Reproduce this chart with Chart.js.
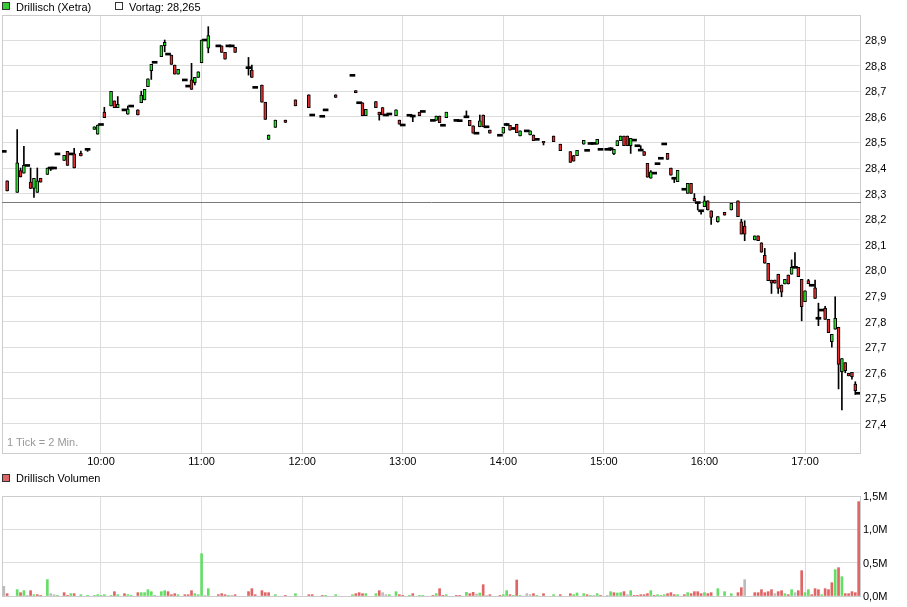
<!DOCTYPE html>
<html>
<head>
<meta charset="utf-8">
<script src="https://cdn.jsdelivr.net/npm/chart.js@4.4.1/dist/chart.umd.min.js"></script>
<style>
  body { margin: 0; background: #fff; font-family: "Liberation Sans", Arial, sans-serif; font-size: 11px; color: #000; }
  #wrap { position: relative; width: 907px; height: 607px; overflow: hidden; }
  canvas { position: absolute; left: 0; }
  .txt { position: absolute; white-space: nowrap; line-height: 11px; }
  .box { position: absolute; width: 6px; height: 6px; border: 1px solid #333; }
</style>
</head>
<body>
<div id="wrap">
  <canvas id="priceChart" width="907" height="470" style="top:0"></canvas>
  <canvas id="volumeChart" width="907" height="137" style="top:470px"></canvas>

  <div class="box" style="left:2px;top:2px;background:#33cc33"></div>
  <div class="txt" style="left:16px;top:2px">Drillisch (Xetra)</div>
  <div class="box" style="left:115px;top:2px;background:#fff"></div>
  <div class="txt" style="left:129px;top:2px">Vortag: 28,265</div>
  <div class="txt" style="left:7px;top:437px;color:#999">1 Tick = 2 Min.</div>
  <div class="box" style="left:2px;top:474px;background:#e06666"></div>
  <div class="txt" style="left:16px;top:473px">Drillisch Volumen</div>
</div>

<script>
// Drillisch (Xetra), 2-minute candles, one trading day
const times = [
  "09:02","09:04","09:10","09:12","09:14","09:16","09:18","09:20","09:22","09:24",
  "09:28","09:30","09:32","09:34","09:38","09:40","09:42","09:44","09:48","09:52",
  "09:56","09:58","10:00","10:02","10:06","10:08","10:10","10:14","10:16","10:18",
  "10:22","10:24","10:26","10:28","10:30","10:32","10:36","10:38","10:40","10:42",
  "10:44","10:46","10:50","10:52","10:54","10:56","10:58","11:00","11:02","11:04",
  "11:10","11:12","11:14","11:16","11:18","11:20","11:28","11:30","11:32","11:36",
  "11:38","11:40","11:44","11:50","11:56","12:04","12:06","12:12","12:14","12:20",
  "12:30","12:32","12:34","12:36","12:38","12:44","12:46","12:48","12:50","12:52",
  "12:56","12:58","13:00","13:04","13:06","13:10","13:12","13:18","13:20","13:22",
  "13:24","13:26","13:32","13:34","13:38","13:40","13:42","13:44","13:46","13:48",
  "13:50","13:52","13:58","14:00","14:02","14:04","14:06","14:08","14:10","14:14",
  "14:16","14:18","14:20","14:24","14:30","14:34","14:40","14:42","14:44","14:48",
  "14:50","14:52","14:54","14:56","14:58","15:02","15:04","15:06","15:08","15:10",
  "15:12","15:14","15:16","15:18","15:20","15:22","15:24","15:26","15:28","15:30",
  "15:32","15:34","15:36","15:38","15:40","15:42","15:44","15:48","15:50","15:52",
  "15:54","15:56","15:58","16:00","16:02","16:04","16:08","16:12","16:16","16:20",
  "16:22","16:24","16:30","16:32","16:34","16:36","16:38","16:40","16:42","16:44",
  "16:46","16:48","16:50","16:52","16:54","16:56","16:58","17:00","17:02","17:04",
  "17:06","17:08","17:10","17:12","17:14","17:16","17:18","17:20","17:22","17:24",
  "17:26","17:28","17:30","17:32"
];

const opens = [
  28.465,28.350,28.305,28.390,28.380,28.410,28.345,28.320,28.305,28.360,
  28.375,28.400,28.400,28.455,28.430,28.465,28.455,28.455,28.457,28.473,
  28.551,28.532,28.570,28.618,28.643,28.662,28.636,28.627,28.610,28.642,
  28.627,28.655,28.666,28.718,28.780,28.813,28.835,28.878,28.845,28.841,
  28.802,28.767,28.744,28.720,28.744,28.733,28.754,28.811,28.900,28.868,
  28.877,28.877,28.852,28.877,28.877,28.871,28.792,28.783,28.715,28.724,
  28.657,28.512,28.559,28.587,28.666,28.686,28.607,28.602,28.627,28.686,
  28.762,28.702,28.655,28.655,28.604,28.659,28.618,28.636,28.607,28.611,
  28.604,28.587,28.568,28.606,28.603,28.618,28.621,28.586,28.586,28.603,
  28.567,28.597,28.586,28.585,28.600,28.586,28.565,28.536,28.561,28.607,
  28.561,28.548,28.528,28.536,28.570,28.567,28.552,28.571,28.525,28.545,
  28.529,28.529,28.512,28.504,28.525,28.493,28.464,28.449,28.448,28.493,
  28.469,28.496,28.496,28.493,28.473,28.473,28.475,28.455,28.487,28.507,
  28.525,28.525,28.487,28.509,28.487,28.470,28.464,28.418,28.360,28.380,
  28.417,28.438,28.494,28.457,28.400,28.360,28.347,28.317,28.301,28.340,
  28.282,28.265,28.233,28.249,28.272,28.233,28.190,28.227,28.236,28.272,
  28.190,28.173,28.119,28.135,28.108,28.059,28.028,27.962,27.962,27.985,
  27.943,27.947,27.982,27.985,28.012,28.012,27.965,27.878,27.960,27.942,
  27.932,27.813,27.845,27.852,27.809,27.722,27.770,27.778,27.604,27.640,
  27.598,27.602,27.556,27.520
];

const highs = [
  28.465,28.350,28.550,28.400,28.485,28.410,28.400,28.360,28.400,28.360,
  28.400,28.400,28.400,28.455,28.450,28.465,28.455,28.477,28.466,28.473,
  28.561,28.568,28.570,28.637,28.700,28.662,28.679,28.627,28.642,28.642,
  28.627,28.700,28.707,28.748,28.805,28.813,28.878,28.900,28.845,28.841,
  28.802,28.785,28.744,28.720,28.809,28.754,28.776,28.900,28.900,28.952,
  28.877,28.877,28.852,28.877,28.877,28.871,28.832,28.802,28.715,28.724,
  28.657,28.529,28.587,28.587,28.666,28.686,28.607,28.602,28.627,28.686,
  28.762,28.702,28.655,28.655,28.629,28.659,28.618,28.636,28.607,28.611,
  28.627,28.587,28.568,28.606,28.603,28.618,28.621,28.586,28.603,28.603,
  28.567,28.618,28.586,28.585,28.623,28.586,28.565,28.536,28.607,28.607,
  28.561,28.548,28.528,28.559,28.575,28.567,28.557,28.571,28.545,28.545,
  28.545,28.529,28.512,28.504,28.525,28.493,28.464,28.449,28.469,28.508,
  28.469,28.496,28.496,28.512,28.473,28.473,28.480,28.473,28.507,28.525,
  28.525,28.525,28.516,28.509,28.487,28.487,28.464,28.418,28.390,28.380,
  28.417,28.438,28.494,28.457,28.400,28.360,28.391,28.317,28.340,28.340,
  28.300,28.265,28.233,28.290,28.272,28.233,28.210,28.227,28.262,28.272,
  28.200,28.194,28.135,28.135,28.108,28.086,28.028,27.962,27.962,27.985,
  27.943,27.965,27.982,28.041,28.070,28.012,27.965,27.920,27.965,27.942,
  27.962,27.872,27.845,27.860,27.809,27.750,27.897,27.778,27.656,27.640,
  27.598,27.602,27.565,27.520
];

const lows = [
  28.465,28.310,28.305,28.365,28.380,28.410,28.320,28.285,28.305,28.345,
  28.375,28.390,28.400,28.455,28.430,28.410,28.455,28.400,28.447,28.465,
  28.551,28.532,28.570,28.597,28.643,28.636,28.636,28.627,28.610,28.642,
  28.607,28.655,28.666,28.718,28.746,28.813,28.835,28.854,28.845,28.805,
  28.767,28.767,28.744,28.720,28.707,28.725,28.754,28.811,28.900,28.850,
  28.877,28.852,28.825,28.877,28.877,28.852,28.763,28.754,28.715,28.657,
  28.590,28.512,28.559,28.578,28.643,28.636,28.607,28.602,28.627,28.676,
  28.762,28.694,28.655,28.604,28.604,28.636,28.587,28.607,28.607,28.611,
  28.604,28.571,28.568,28.606,28.581,28.604,28.621,28.586,28.586,28.577,
  28.567,28.597,28.586,28.585,28.600,28.565,28.536,28.536,28.561,28.561,
  28.561,28.536,28.528,28.536,28.565,28.548,28.552,28.538,28.525,28.545,
  28.529,28.507,28.512,28.490,28.503,28.468,28.422,28.427,28.448,28.493,
  28.469,28.496,28.496,28.493,28.473,28.473,28.468,28.452,28.487,28.507,
  28.487,28.487,28.457,28.509,28.487,28.470,28.449,28.364,28.360,28.380,
  28.417,28.438,28.494,28.434,28.372,28.343,28.347,28.317,28.301,28.301,
  28.271,28.236,28.220,28.249,28.236,28.180,28.188,28.216,28.236,28.210,
  28.142,28.116,28.119,28.116,28.071,28.028,27.960,27.910,27.950,27.910,
  27.897,27.947,27.947,27.985,28.012,27.976,27.803,27.878,27.948,27.942,
  27.891,27.784,27.845,27.809,27.757,27.700,27.770,27.537,27.455,27.600,
  27.588,27.575,27.515,27.520
];

const closes = [
  28.465,28.310,28.420,28.365,28.410,28.410,28.320,28.360,28.350,28.345,
  28.400,28.400,28.400,28.455,28.450,28.410,28.455,28.400,28.447,28.473,
  28.561,28.568,28.570,28.597,28.700,28.636,28.649,28.627,28.630,28.642,
  28.607,28.685,28.707,28.748,28.805,28.813,28.878,28.891,28.845,28.805,
  28.767,28.785,28.744,28.720,28.707,28.754,28.776,28.900,28.900,28.917,
  28.877,28.852,28.825,28.877,28.877,28.852,28.792,28.754,28.715,28.657,
  28.590,28.529,28.587,28.578,28.643,28.636,28.607,28.602,28.627,28.676,
  28.762,28.694,28.655,28.604,28.629,28.636,28.607,28.607,28.607,28.611,
  28.627,28.571,28.568,28.606,28.603,28.604,28.621,28.586,28.603,28.577,
  28.567,28.618,28.586,28.585,28.600,28.565,28.536,28.536,28.584,28.561,
  28.561,28.536,28.528,28.559,28.570,28.548,28.557,28.538,28.545,28.545,
  28.545,28.507,28.512,28.498,28.503,28.468,28.422,28.427,28.469,28.508,
  28.469,28.496,28.496,28.512,28.473,28.473,28.475,28.473,28.507,28.525,
  28.487,28.487,28.516,28.509,28.487,28.470,28.449,28.364,28.385,28.380,
  28.417,28.438,28.494,28.434,28.372,28.360,28.391,28.317,28.340,28.301,
  28.271,28.265,28.233,28.272,28.236,28.207,28.210,28.216,28.262,28.210,
  28.142,28.142,28.135,28.116,28.071,28.028,27.960,27.950,27.950,27.930,
  27.915,27.965,27.947,28.012,28.012,27.976,27.858,27.920,27.948,27.942,
  27.891,27.813,27.845,27.809,27.757,27.750,27.813,27.633,27.656,27.608,
  27.588,27.585,27.530,27.520
];

// volume in millions of shares
const volumes = [
  0.145,0.035,0.095,0.050,0.080,0.010,0.080,0.020,0.020,0.010,
  0.245,0.035,0.020,0.005,0.050,0.010,0.035,0.035,0.020,0.010,
  0.010,0.020,0.010,0.020,0.010,0.065,0.020,0.035,0.020,0.010,
  0.050,0.050,0.050,0.095,0.065,0.010,0.065,0.080,0.065,0.020,
  0.035,0.020,0.020,0.020,0.080,0.035,0.020,0.635,0.010,0.110,
  0.020,0.035,0.020,0.010,0.010,0.020,0.065,0.110,0.020,0.080,
  0.050,0.050,0.020,0.010,0.035,0.020,0.020,0.010,0.010,0.020,
  0.020,0.035,0.050,0.035,0.035,0.035,0.080,0.050,0.020,0.020,
  0.065,0.020,0.010,0.010,0.035,0.010,0.010,0.010,0.035,0.110,
  0.010,0.020,0.010,0.010,0.055,0.035,0.055,0.030,0.045,0.170,
  0.010,0.020,0.010,0.020,0.080,0.020,0.010,0.240,0.010,0.035,
  0.020,0.035,0.010,0.035,0.020,0.020,0.035,0.020,0.045,0.035,
  0.020,0.010,0.010,0.035,0.010,0.010,0.065,0.050,0.045,0.050,
  0.065,0.020,0.080,0.010,0.010,0.020,0.020,0.035,0.080,0.010,
  0.020,0.010,0.020,0.035,0.050,0.020,0.020,0.020,0.050,0.035,
  0.065,0.065,0.035,0.050,0.035,0.050,0.110,0.065,0.035,0.050,
  0.125,0.245,0.050,0.050,0.095,0.050,0.065,0.095,0.035,0.065,
  0.080,0.035,0.020,0.095,0.050,0.080,0.380,0.050,0.095,0.020,
  0.110,0.095,0.020,0.110,0.095,0.200,0.395,0.425,0.290,0.035,
  0.035,0.065,0.050,1.415
];

const previousClose = 28.265;
const hourTicks = ["10:00","11:00","12:00","13:00","14:00","15:00","16:00","17:00"];
const priceTicks = [27.4,27.5,27.6,27.7,27.8,27.9,28.0,28.1,28.2,28.3,28.4,28.5,28.6,28.7,28.8,28.9];
const volumeTicks = [0, 0.5, 1.0, 1.5];

// ---------------------------------------------------------------
const FONT = "'Liberation Sans', Arial, sans-serif";
const GRID = "#dddddd";
const FRAME = "#cccccc";
const UP = "#22e622", DOWN = "#e62e2e";
const V_UP = "#66dd66", V_DOWN = "#e06666", V_FLAT = "#bbbbbb";
const X_MIN = 0.94, X_MAX = 512.8;  // minutes after 09:00
const PX = 1.711 / 438;              // price per pixel

Chart.defaults.font.family = FONT;
Chart.defaults.font.size = 11;
Chart.defaults.color = "#000";

const toMin = t => {
  const [h, m] = t.split(":").map(Number);
  return (h - 9) * 60 + m;
};
const xs = times.map(toMin);
const comma = v => v.toFixed(1).replace(".", ",");

// draws the plot frame and the previous-close line
const plotFrame = {
  id: "plotFrame",
  beforeDatasetsDraw(chart, args, opts) {
    const { ctx, chartArea: a } = chart;
    ctx.save();
    ctx.lineWidth = 1;
    ctx.strokeStyle = FRAME;
    ctx.strokeRect(a.left + 0.5, a.top + 0.5, a.width, a.height);
    if (opts.refValue !== undefined) {
      const y = Math.floor(chart.scales.y.getPixelForValue(opts.refValue)) + 0.5;
      ctx.strokeStyle = "#7a7a7a";
      ctx.beginPath();
      ctx.moveTo(a.left, y);
      ctx.lineTo(a.right + 1, y);
      ctx.stroke();
    }
    ctx.restore();
  }
};

function timeAxis(showLabels, height) {
  return {
    type: "linear",
    min: X_MIN,
    max: X_MAX,
    offset: false,
    afterBuildTicks: s => { s.ticks = hourTicks.map(t => ({ value: toMin(t) })); },
    afterFit: s => { s.height = height; },
    ticks: {
      display: showLabels,
      autoSkip: false,
      maxRotation: 0,
      padding: 2,
      callback: (v, i) => hourTicks[i]
    },
    grid: { color: GRID, drawTicks: false, offset: false },
    border: { display: false }
  };
}

// split candles into real bodies and doji dashes
const isDoji = i => Math.abs(closes[i] - opens[i]) < 0.006;
const bodies = [], bodyColors = [], dojis = [];
xs.forEach((x, i) => {
  if (isDoji(i)) {
    const mid = (opens[i] + closes[i]) / 2;
    dojis.push({ x, y: [mid - PX, mid + PX] });
  } else {
    bodies.push({ x, y: [Math.min(opens[i], closes[i]), Math.max(opens[i], closes[i])] });
    bodyColors.push(closes[i] > opens[i] ? UP : DOWN);
  }
});
const wicks = xs.map((x, i) => ({ x, y: [lows[i], highs[i]] }));

new Chart(document.getElementById("priceChart"), {
  type: "bar",
  data: {
    datasets: [
      {
        label: "Wicks",
        data: wicks,
        backgroundColor: "#000",
        borderWidth: 0,
        barThickness: 1,
        grouped: false,
        order: 3
      },
      {
        label: "Doji",
        data: dojis,
        backgroundColor: "#000",
        borderWidth: 0,
        barThickness: 5,
        grouped: false,
        order: 2
      },
      {
        label: "Drillisch (Xetra)",
        data: bodies,
        backgroundColor: bodyColors,
        borderColor: "#000",
        borderWidth: 1,
        borderSkipped: false,
        barThickness: 3,
        grouped: false,
        order: 1
      }
    ]
  },
  plugins: [plotFrame],
  options: {
    responsive: false,
    animation: false,
    events: [],
    layout: { padding: { left: 2, top: 15, right: 0, bottom: 0 } },
    plugins: {
      legend: { display: false },
      tooltip: { enabled: false },
      plotFrame: { refValue: previousClose }
    },
    scales: {
      x: timeAxis(true, 17),
      y: {
        position: "right",
        min: 27.2867,
        max: 28.9977,
        afterBuildTicks: s => { s.ticks = priceTicks.map(v => ({ value: v })); },
        afterFit: s => { s.width = 47; },
        ticks: { padding: 5, labelOffset: 1, callback: v => comma(v) },
        grid: { color: GRID, drawTicks: false },
        border: { display: false }
      }
    }
  }
});

// volume bars coloured by change against the previous close
const volColors = xs.map((x, i) => {
  if (i === 0 || closes[i] === closes[i - 1]) return V_FLAT;
  return closes[i] > closes[i - 1] ? V_UP : V_DOWN;
});

new Chart(document.getElementById("volumeChart"), {
  type: "bar",
  data: {
    datasets: [{
      label: "Drillisch Volumen",
      data: xs.map((x, i) => ({ x, y: volumes[i] })),
      backgroundColor: volColors,
      borderWidth: 0,
      barThickness: 2
    }]
  },
  plugins: [plotFrame],
  options: {
    responsive: false,
    animation: false,
    events: [],
    layout: { padding: { left: 2, top: 26, right: 0, bottom: 0 } },
    plugins: {
      legend: { display: false },
      tooltip: { enabled: false }
    },
    scales: {
      x: timeAxis(false, 11),
      y: {
        position: "right",
        min: 0,
        max: 1.5,
        afterBuildTicks: s => { s.ticks = volumeTicks.map(v => ({ value: v })); },
        afterFit: s => { s.width = 47; },
        ticks: { padding: 3, labelOffset: 1, callback: v => comma(v) + "M" },
        grid: { color: GRID, drawTicks: false },
        border: { display: false }
      }
    }
  }
});
</script>
</body>
</html>
